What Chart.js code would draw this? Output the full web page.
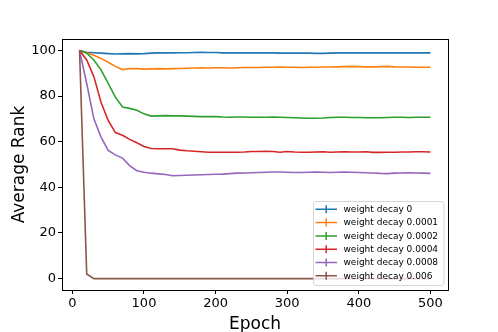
<!DOCTYPE html>
<html>
<head>
<meta charset="utf-8">
<script src="https://cdn.jsdelivr.net/npm/chart.js@4"></script>
<style>
  html, body { margin: 0; padding: 0; background: #fff; }
  #wrap { position: relative; width: 498px; height: 332px; }
</style>
</head>
<body>
<div id="wrap"><canvas id="c"></canvas></div>
<script>
// Epochs and tick values
const epochs = [];
for (let e = 10; e <= 500; e += 10) epochs.push(e);
const xTicks = [0, 100, 200, 300, 400, 500];
const yTicks = [0, 20, 40, 60, 80, 100];

const labels = [
  "weight decay 0",
  "weight decay 0.0001",
  "weight decay 0.0002",
  "weight decay 0.0004",
  "weight decay 0.0008",
  "weight decay 0.006"
];

// Average rank per run
const wd0 = [100, 99.2, 99.0, 98.8, 98.6, 98.4, 98.5, 98.6, 98.5, 98.6,
  98.8, 98.9, 98.9, 98.9, 99.0, 99.0, 99.1, 99.2, 99.1, 99.1,
  98.9, 98.9, 98.9, 98.9, 98.9, 98.9, 98.9, 98.9, 98.8, 98.8,
  98.8, 98.8, 98.8, 98.7, 98.7, 98.8, 98.9, 98.9, 98.9, 98.9,
  98.9, 98.9, 98.9, 98.9, 98.9, 98.9, 98.9, 98.9, 98.9, 98.9];
const wd1 = [100, 99.0, 97.9, 96.5, 94.8, 93.0, 91.6, 92.1, 92.0, 91.8,
  91.9, 92.0, 91.9, 92.0, 92.1, 92.2, 92.3, 92.4, 92.3, 92.4,
  92.4, 92.3, 92.4, 92.5, 92.5, 92.5, 92.6, 92.6, 92.7, 92.6,
  92.6, 92.5, 92.6, 92.6, 92.7, 92.7, 92.8, 92.9, 93.0, 92.9,
  92.8, 92.8, 92.9, 93.0, 92.8, 92.7, 92.7, 92.6, 92.6, 92.6];
const wd2 = [100, 98.8, 95.8, 91.5, 85.5, 79.5, 75.2, 74.6, 73.8, 72.2,
  71.2, 71.3, 71.4, 71.3, 71.3, 71.2, 71.1, 71.0, 71.0, 71.0,
  70.8, 70.7, 70.8, 70.8, 70.7, 70.7, 70.7, 70.8, 70.7, 70.6,
  70.5, 70.4, 70.3, 70.3, 70.4, 70.6, 70.7, 70.7, 70.6, 70.6,
  70.5, 70.5, 70.5, 70.6, 70.7, 70.7, 70.6, 70.7, 70.7, 70.7];
const wd4 = [100, 95.8, 88.5, 77.3, 69.3, 64.0, 62.8, 61.0, 59.5, 57.9,
  57.0, 56.9, 56.9, 56.9, 56.3, 56.0, 55.8, 55.6, 55.4, 55.4,
  55.4, 55.4, 55.4, 55.5, 55.7, 55.7, 55.8, 55.7, 55.4, 55.7,
  55.5, 55.4, 55.4, 55.5, 55.6, 55.4, 55.5, 55.6, 55.5, 55.5,
  55.6, 55.3, 55.3, 55.4, 55.4, 55.5, 55.5, 55.6, 55.6, 55.5];
const wd8 = [100, 85.5, 70.0, 62.0, 56.2, 54.2, 52.8, 49.5, 47.3, 46.6,
  46.2, 45.9, 45.6, 45.1, 45.2, 45.3, 45.4, 45.5, 45.6, 45.7,
  45.8, 46.0, 46.2, 46.3, 46.4, 46.5, 46.6, 46.7, 46.7, 46.6,
  46.5, 46.5, 46.6, 46.7, 46.6, 46.5, 46.6, 46.7, 46.6, 46.5,
  46.4, 46.3, 46.1, 46.0, 46.2, 46.3, 46.4, 46.3, 46.2, 46.1];
const wd60 = [100, 2, 0, 0, 0, 0, 0, 0, 0, 0,
  0, 0, 0, 0, 0, 0, 0, 0, 0, 0,
  0, 0, 0, 0, 0, 0, 0, 0, 0, 0,
  0, 0, 0, 0, 0, 0, 0, 0, 0, 0,
  0, 0, 0, 0, 0, 0, 0, 0, 0, 0];

const series = [wd0, wd1, wd2, wd4, wd8, wd60];
const colors = ["#1f77b4", "#ff7f0e", "#2ca02c", "#d62728", "#9467bd", "#8c564b"];
const FONT = "'DejaVu Sans', sans-serif";

const datasets = series.map((s, i) => ({
  label: labels[i],
  data: s.map((v, k) => ({ x: epochs[k], y: v })),
  borderColor: colors[i],
  backgroundColor: colors[i],
  borderWidth: 1.6,
  pointRadius: 0,
  tension: 0,
  order: series.length - i
}));

// frame on all four sides, like matplotlib spines
const frame = {
  id: "frame",
  afterDatasetsDraw(chart) {
    const a = chart.chartArea;
    const ctx = chart.ctx;
    ctx.save();
    ctx.strokeStyle = "#000";
    ctx.lineWidth = 1;
    ctx.strokeRect(Math.round(a.left) + 0.5, Math.round(a.top) + 0.5,
      Math.round(a.right - a.left), Math.round(a.bottom - a.top));
    ctx.restore();
  }
};

// legend drawn inside the axes, lower right
const legendBox = {
  id: "legendBox",
  afterDraw(chart) {
    const ctx = chart.ctx;
    const x0 = 313.5, y0 = 201.5, w = 130.5, h = 84;
    ctx.save();
    ctx.beginPath();
    ctx.roundRect(x0, y0, w, h, 2.5);
    ctx.fillStyle = "rgba(255,255,255,0.8)";
    ctx.fill();
    ctx.strokeStyle = "rgba(204,204,204,0.8)";
    ctx.lineWidth = 1;
    ctx.stroke();
    ctx.font = "9px " + FONT;
    ctx.textBaseline = "middle";
    chart.data.datasets.forEach((ds, i) => {
      const y = 209.3 + i * 13.3;
      ctx.strokeStyle = ds.borderColor;
      ctx.lineWidth = 1.5;
      ctx.beginPath();
      ctx.moveTo(315.5, y);
      ctx.lineTo(337, y);
      ctx.moveTo(326.2, y - 4);
      ctx.lineTo(326.2, y + 4);
      ctx.stroke();
      ctx.fillStyle = "#000";
      ctx.fillText(ds.label, 343.5, y + 0.5);
    });
    ctx.restore();
  }
};

new Chart(document.getElementById("c"), {
  type: "line",
  data: { datasets },
  options: {
    responsive: true,
    maintainAspectRatio: false,
    animation: false,
    layout: { padding: { top: 39, right: 50, left: 0, bottom: 0 } },
    plugins: { legend: { display: false }, tooltip: { enabled: false } },
    scales: {
      x: {
        type: "linear",
        min: -14.5,
        max: 524.5,
        afterBuildTicks: (s) => { s.ticks = xTicks.map((v) => ({ value: v })); },
        afterFit: (s) => { s.height = 42; },
        border: { display: true, color: "#000", width: 1 },
        grid: { drawOnChartArea: false, drawTicks: true, tickLength: 4, tickColor: "#000" },
        ticks: { color: "#000", font: { family: FONT, size: 13 }, padding: 2, maxRotation: 0 },
        title: {
          display: true, text: "Epoch", color: "#000",
          font: { family: FONT, size: 17, lineHeight: 0.9 }, padding: 0
        }
      },
      y: {
        type: "linear",
        min: -5,
        max: 105,
        afterBuildTicks: (s) => { s.ticks = yTicks.map((v) => ({ value: v })); },
        afterFit: (s) => { s.width = 62; },
        border: { display: true, color: "#000", width: 1 },
        grid: { drawOnChartArea: false, drawTicks: true, tickLength: 4, tickColor: "#000" },
        ticks: { color: "#000", font: { family: FONT, size: 13 }, padding: 2 },
        title: {
          display: true, text: "Average Rank", color: "#000",
          font: { family: FONT, size: 17, lineHeight: 1.2 }, padding: { top: 9, bottom: 8 }
        }
      }
    }
  },
  plugins: [frame, legendBox]
});
</script>
</body>
</html>
